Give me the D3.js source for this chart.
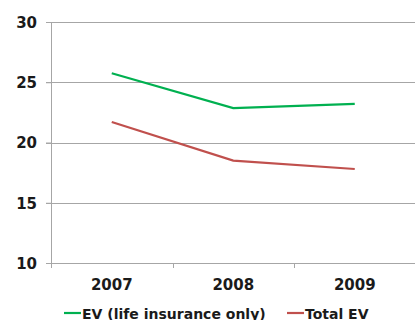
<!DOCTYPE html>
<html>
<head>
<meta charset="utf-8">
<script src="https://cdn.jsdelivr.net/npm/d3@7"></script>
<style>
  body { margin: 0; background: #fff; }
  text { font-family: "DejaVu Sans", sans-serif; font-weight: 700; fill: #1a1a1a; }
</style>
</head>
<body>
<svg id="chart" width="415" height="320"></svg>
<script>
// Data
var years = ["2007", "2008", "2009"];
var evLife = [25.75, 22.85, 23.2];
var evTotal = [21.7, 18.5, 17.8];
var yTicks = [10, 15, 20, 25, 30];

var svg = d3.select("#chart");
var margin = {top: 22, right: 0, bottom: 57, left: 51};
var width = 415 - margin.left - margin.right;
var height = 320 - margin.top - margin.bottom;

var g = svg.append("g").attr("transform", `translate(${margin.left},${margin.top})`);

// scales
var x = d3.scaleBand().domain(years).range([0, width + 0.5]);
var y = d3.scaleLinear().domain([10, 30]).range([height, 0]);

// horizontal gridlines
g.selectAll(".grid")
    .data(yTicks.filter(d => d > 10))
    .enter().append("line")
    .attr("x1", -5).attr("x2", width)
    .attr("y1", d => Math.round(y(d)) + 0.5).attr("y2", d => Math.round(y(d)) + 0.5)
    .attr("stroke", "#a6a6a6").attr("stroke-width", 1);

// y axis
var yAxis = g.append("g")
    .call(d3.axisLeft(y).tickValues(yTicks).tickSize(5).tickPadding(9).tickSizeOuter(0));
yAxis.select(".domain").attr("stroke", "#a6a6a6");
yAxis.selectAll(".tick line").attr("stroke", "#a6a6a6");
yAxis.selectAll("text").style("font-size", "15px").attr("dy", "0.36em").attr("fill", "#1a1a1a")
    .style("font-family", "DejaVu Sans").style("font-weight", 700);

// x axis (ticks at category boundaries)
var xAxis = g.append("g").attr("transform", `translate(0,${height})`);
xAxis.append("line")
    .attr("x1", -5).attr("x2", width)
    .attr("y1", 0.5).attr("y2", 0.5)
    .attr("stroke", "#a6a6a6");
xAxis.selectAll(".sep")
    .data(years)
    .enter().append("line")
    .attr("x1", d => Math.round(x(d)) + 0.5).attr("x2", d => Math.round(x(d)) + 0.5)
    .attr("y1", 0).attr("y2", 5)
    .attr("stroke", "#a6a6a6");
xAxis.selectAll(".lab")
    .data(years)
    .enter().append("text")
    .attr("x", d => x(d) + x.bandwidth() / 2)
    .attr("y", 27)
    .attr("text-anchor", "middle")
    .style("font-size", "15px")
    .text(d => d);

// lines
var line = d3.line()
    .x((d, i) => x(years[i]) + x.bandwidth() / 2)
    .y(d => y(d));

g.append("path").datum(evLife)
    .attr("fill", "none").attr("stroke", "#00b050").attr("stroke-width", 2.2)
    .attr("d", line);
g.append("path").datum(evTotal)
    .attr("fill", "none").attr("stroke", "#c0504d").attr("stroke-width", 2.2)
    .attr("d", line);

// legend
var legend = [
    {label: "EV (life insurance only)", color: "#00b050", x: 64},
    {label: "Total EV", color: "#c0504d", x: 287}
];
var lg = svg.append("g").attr("transform", "translate(0,313)");
lg.selectAll("line").data(legend).enter().append("line")
    .attr("x1", d => d.x).attr("x2", d => d.x + 17)
    .attr("y1", 0).attr("y2", 0)
    .attr("stroke", d => d.color).attr("stroke-width", 2.2);
lg.selectAll("text").data(legend).enter().append("text")
    .attr("x", d => d.x + 18).attr("y", 6)
    .style("font-size", "14px")
    .text(d => d.label);
</script>
</body>
</html>
